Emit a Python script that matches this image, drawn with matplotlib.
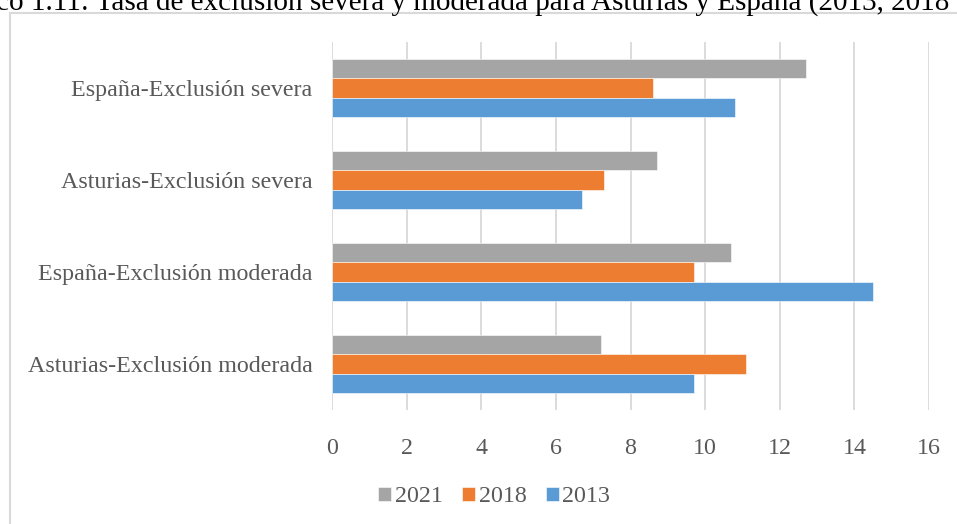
import matplotlib
matplotlib.use('Agg')
import matplotlib.pyplot as plt
from matplotlib.patches import Rectangle
import numpy as np

# datos (de abajo hacia arriba)
categorias = ['Asturias-Exclusión moderada', 'España-Exclusión moderada',
              'Asturias-Exclusión severa', 'España-Exclusión severa']
v2013 = [9.7, 14.5, 6.7, 10.8]
v2018 = [11.1, 9.7, 7.3, 8.6]
v2021 = [7.2, 10.7, 8.7, 12.7]
xticks = [0, 2, 4, 6, 8, 10, 12, 14, 16]

plt.rcParams['font.family'] = ['Liberation Serif', 'DejaVu Serif']

W, H = 957, 524
fig = plt.figure(figsize=(W / 100, H / 100), dpi=100)
ax = fig.add_axes([332 / W, 1 - 410 / H, (929 - 332) / W, (410 - 42) / H])

# marco del gráfico (recortado por la imagen)
fig.patches.append(Rectangle((10 / W, -0.2), 1.2, 1.2 - 13 / H, transform=fig.transFigure,
                             fill=False, edgecolor='#d9d9d9', linewidth=1.5))

y = np.arange(len(categorias))
h = 0.21
ax.barh(y + h, v2021, height=h, color='#a5a5a5', label='2021', edgecolor='white', linewidth=0.4)
ax.barh(y, v2018, height=h, color='#ed7d31', label='2018', edgecolor='white', linewidth=0.4)
ax.barh(y - h, v2013, height=h, color='#5b9bd5', label='2013', edgecolor='white', linewidth=0.4)

ax.set_xlim(0, 16)
ax.set_ylim(-0.5, 3.5)
ax.set_xticks(xticks)
ax.set_yticks(y)
ax.set_yticklabels(categorias)
ax.tick_params(axis='both', length=0, labelsize=17.3, colors='#595959')
ax.tick_params(axis='y', pad=14)
ax.tick_params(axis='x', pad=20)
for s in ax.spines.values():
    s.set_visible(False)
ax.grid(axis='x', color='#d9d9d9', linewidth=1.3)
ax.set_axisbelow(True)

ax.legend(loc='center', bbox_to_anchor=(494 / W, 1 - 497 / H), bbox_transform=fig.transFigure,
          ncol=3, frameon=False, fontsize=17.3, handlelength=0.55, handleheight=0.55,
          handletextpad=0.15, columnspacing=0.8, labelcolor='#595959')

fig.text(-4 / W, 1 - 9.5 / H, 'co 1.11: Tasa de exclusión severa y moderada para Asturias y España (2013, 2018',
         fontsize=21, color='black', va='baseline', ha='left')

fig.savefig('out.png', dpi=100)
